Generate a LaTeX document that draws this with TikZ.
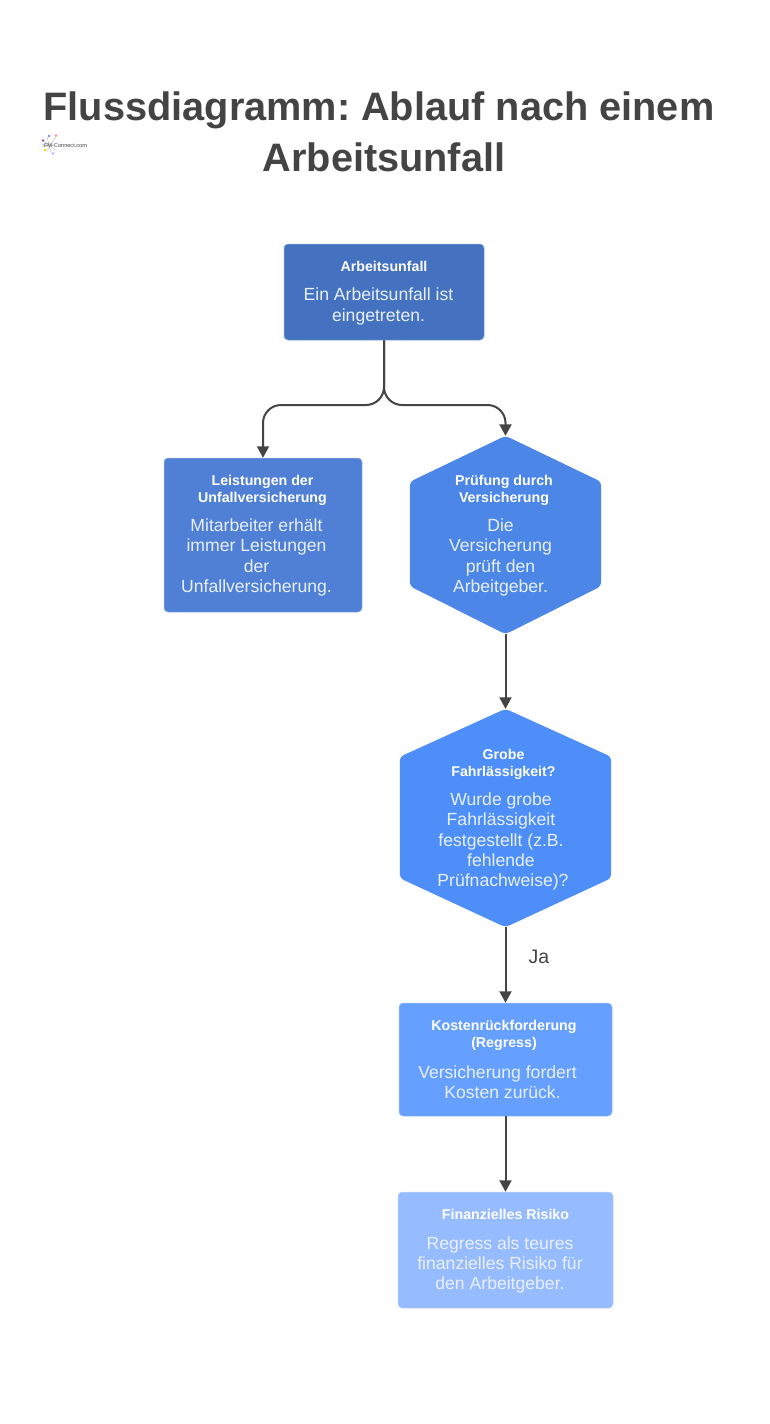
\documentclass[tikz,border=0pt]{standalone}
\usepackage{fontspec}
\setmainfont{Liberation Sans}
\usetikzlibrary{arrows.meta,calc}
\frenchspacing
\definecolor{ink}{HTML}{444444}
\definecolor{bodytext}{HTML}{E8F0FF}
\definecolor{cA}{HTML}{4472C0}
\definecolor{cB}{HTML}{5080D6}
\definecolor{cC}{HTML}{4C86E6}
\definecolor{cD}{HTML}{4D8EF8}
\definecolor{cE}{HTML}{659FFF}
\definecolor{cF}{HTML}{97BBFF}
\tikzset{
  x=1pt,y=-1pt,
  flowbox/.style={rectangle,rounded corners=4pt,inner sep=0pt,draw=white!40!#1,line width=.5pt,fill=#1},
  hexanchor/.style={rectangle,inner sep=0pt},
  hexfill/.style={rounded corners=4pt,fill=#1},
  boxhead/.style={text=white,align=center,inner sep=0pt,font=\fontsize{14.2}{17}\selectfont\bfseries},
  boxbody/.style={text=bodytext,align=center,inner sep=0pt,font=\fontsize{17.6}{20.3}\selectfont},
  flow/.style={draw=ink,line width=2pt,-{Triangle[length=11.5pt,width=12pt]}},
  bigtitle/.style={text=ink,align=center,inner sep=0pt,font=\fontsize{39.7}{50.5}\selectfont\bfseries},
  edgelabel/.style={text=ink,inner sep=0pt,font=\fontsize{19.5}{20}\selectfont},
  logotext/.style={text=ink,inner sep=0pt,font=\fontsize{5.6}{6}\selectfont},
}
\begin{document}
\begin{tikzpicture}
\useasboundingbox[fill=white] (0,0) rectangle (769,1424);
\node[bigtitle] (title) at (384,132) {\hspace*{-10pt}Flussdiagramm: Ablauf nach einem\\Arbeitsunfall};

% logo
\draw[gray!45,line width=.5pt] (42,147)--(53,144) (47,137)--(51,153) (56,136)--(47,151) (43,140)--(55,150) (41,144)--(50,146);
\fill[violet!70] (43,140.5) circle (1.4);
\fill[blue!50] (49,136) circle (1.3);
\fill[red!45] (56,135.5) circle (1.3);
\fill[yellow!70!orange] (45,150) circle (1.3);
\fill[blue!30] (53,153.5) circle (1.3);
\node[logotext] (logo) at (65.5,145.5) {FM-Connect.com};

% boxes
\node[flowbox=cA,minimum width=200pt,minimum height=96pt] (accident) at (384,292) {};
\node[flowbox=cB,minimum width=198pt,minimum height=154pt] (benefits) at (263,535) {};
\node[flowbox=cE,minimum width=213pt,minimum height=113pt] (regress) at (505.5,1059.5) {};
\node[flowbox=cF,minimum width=215pt,minimum height=116pt] (risk) at (505.5,1250) {};

% hexagons
\node[hexanchor,minimum width=191pt,minimum height=198pt] (check) at (505.5,535) {};
\fill[hexfill=cC] (check.north) -- ($(check.north east)+(0,46)$) -- ($(check.south east)+(0,-48)$)
  -- (check.south) -- ($(check.south west)+(0,-48)$) -- ($(check.north west)+(0,46)$) -- cycle;
\node[hexanchor,minimum width=211pt,minimum height=218pt] (gross) at (505.5,818) {};
\fill[hexfill=cD] (gross.north) -- ($(gross.north east)+(0,48)$) -- ($(gross.south east)+(0,-49)$)
  -- (gross.south) -- ($(gross.south west)+(0,-49)$) -- ($(gross.north west)+(0,48)$) -- cycle;

% texts
\node[boxhead] (accidentH) at (384,266.5) {Arbeitsunfall};
\node[boxbody] (accidentB) at (378.5,306.5) {Ein Arbeitsunfall ist\\eingetreten.};
\node[boxhead] (benefitsH) at (262.5,490) {Leistungen der\\Unfallversicherung};
\node[boxbody] (benefitsB) at (256.5,557.5) {Mitarbeiter erhält\\immer Leistungen\\der\\Unfallversicherung.};
\node[boxhead] (checkH) at (504,490) {Prüfung durch\\Versicherung};
\node[boxbody] (checkB) at (500.5,557.5) {Die\\Versicherung\\prüft den\\Arbeitgeber.};
\node[boxhead] (grossH) at (503.5,764) {Grobe\\Fahrlässigkeit?};
\node[boxbody] (grossB) at (501,841.5) {Wurde grobe\\Fahrlässigkeit\\festgestellt (z.B.\\fehlende\\\hspace*{4pt}Prüfnachweise)?};
\node[boxhead] (regressH) at (504,1035) {Kostenrückforderung\\(Regress)};
\node[boxbody] (regressB) at (500,1082.5) {\hspace*{-5pt}Versicherung fordert\\\hspace*{5pt}Kosten zurück.};
\node[boxhead] (riskH) at (505.5,1214.5) {Finanzielles Risiko};
\node[boxbody] (riskB) at (500,1265) {Regress als teures\\finanzielles Risiko für\\den Arbeitgeber.};

% connectors
\coordinate (split) at (384,405);
\draw[flow,rounded corners=18pt] (accident.south) -- (split) -| (benefits.north);
\draw[flow,rounded corners=18pt] (accident.south) -- (split) -| (check.north);
\draw[flow] (check.south) -- (gross.north);
\draw[flow] (gross.south) -- (regress.north) node[edgelabel,pos=.39,xshift=33.5pt] (ja) {Ja};
\draw[flow] (regress.south) -- (risk.north);
\end{tikzpicture}
\end{document}
